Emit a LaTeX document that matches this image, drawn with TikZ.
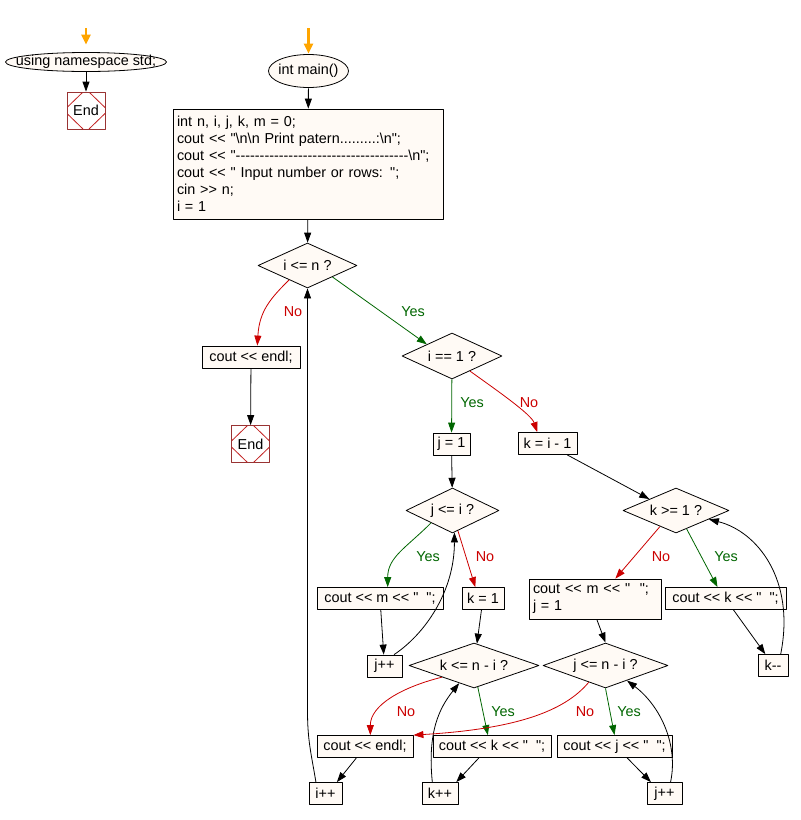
\documentclass[tikz,border=0pt]{standalone}
\usepackage{fontspec}
\setmainfont{Liberation Sans}[Ligatures=TeXOff]
\usetikzlibrary{shapes.geometric, arrows.meta, calc}
\definecolor{cream}{HTML}{FFFAF5}
\definecolor{nored}{HTML}{CC0000}
\definecolor{yesgreen}{HTML}{006600}
\definecolor{endred}{HTML}{993333}
\definecolor{startorange}{HTML}{FFA500}
\begin{document}
\begin{tikzpicture}[x=1pt, y=-1pt, >={Triangle[length=10pt,width=7pt]}, line join=round,
	line width=.8pt, font=\fontsize{14.4pt}{17pt}\selectfont]
	\tikzset{
		box/.style={draw, fill=cream, minimum height=22, inner xsep=4pt, inner ysep=0pt},
		decision/.style={diamond, draw, fill=cream, aspect=3, inner sep=0pt, minimum height=45},
		terminal/.style 2 args={inner sep=0pt, minimum width=#1, minimum height=#2,
			path picture={\draw[fill=cream] (path picture bounding box.center) ellipse [x radius={#1/2-.5}, y radius={#2/2-.5}];}},
		stopbox/.style={draw=endred, fill=white, minimum width=38, minimum height=37, inner sep=0pt,
			path picture={\draw[endred!60!red]
				([xshift=-3pt]path picture bounding box.north) -- ([yshift=3pt]path picture bounding box.west)
				([yshift=-3pt]path picture bounding box.west) -- ([xshift=-3pt]path picture bounding box.south)
				([xshift=3pt]path picture bounding box.south) -- ([yshift=-3pt]path picture bounding box.east)
				([yshift=3pt]path picture bounding box.east) -- ([xshift=3pt]path picture bounding box.north);}},
		yesline/.style={->, color=yesgreen},
		noline/.style={->, color=nored},
		yeslbl/.style={text=yesgreen}, nolbl/.style={text=nored},
		startarrow/.style={>={Triangle[length=10pt,width=9pt]}, ->, color=startorange, line width=2.2pt}
	}
	\path[use as bounding box, fill=white] (0,0) rectangle (801,820);
	% left part
	\node[terminal={162}{20}] (ns) at (86,62) {using namespace std;};
	\node[stopbox] (end1) at (86,110.5) {End};
	% main part
	\node[terminal={81}{34}] (main) at (308.5,71) {int main()};
	\node[box, align=left, text width=262pt, minimum height=110] (init) at (308,164) {int n, i, j, k, m = 0;\\
		cout << "\textbackslash n\textbackslash n Print patern.........:\textbackslash n";\\
		cout << "------------------------------------\textbackslash n";\\
		cout << " Input number or rows: ";\\
		cin >> n;\\
		i = 1};
	\node[decision, minimum width=99] (c1) at (307.5,265.5) {i <= n ?};
	\node[box, minimum width=98] (endl1) at (251,357) {cout << endl;};
	\node[stopbox] (end2) at (250.5,444) {End};
	\node[decision, minimum width=100, minimum height=46] (c2) at (452,356) {i == 1 ?};
	\node[box, minimum width=37] (j1) at (451.5,444) {j = 1};
	\node[box, minimum width=59] (ki1) at (547.5,443.5) {k = i - 1};
	\node[decision, minimum width=93] (c3) at (452.5,510.5) {j <= i ?};
	\node[decision, minimum width=106] (c4) at (676,510.5) {k >= 1 ?};
	\node[box, minimum width=126] (mout) at (380,598.5) {cout << m << "\ \ ";};
	\node[box, minimum width=42] (k1) at (483,598.5) {k = 1};
	\node[box, minimum width=35] (jinc1) at (384.5,666) {j++};
	\node[box, align=left, text width=124pt, minimum height=40] (mj) at (595,599) {cout << m << "\ \ ";\\ j = 1};
	\node[box, minimum width=121] (kout) at (725.5,598.5) {cout << k << "\ \ ";};
	\node[box, minimum width=30] (kdec) at (773,665.5) {k--};
	\node[decision, minimum width=130] (c5) at (474,665.5) {k <= n - i ?};
	\node[decision, minimum width=125] (c6) at (605.5,665.5) {j <= n - i ?};
	\node[box, minimum width=96] (endl2) at (365,746.5) {cout << endl;};
	\node[box, minimum width=118] (kout2) at (492,746.5) {cout << k << "\ \ ";};
	\node[box, minimum width=115] (jout) at (614.5,746.5) {cout << j << "\ \ ";};
	\node[box, minimum width=33] (iinc) at (325.5,793.5) {i++};
	\node[box, minimum width=36] (kinc) at (440,793.5) {k++};
	\node[box, minimum width=35] (jinc2) at (664.5,793.5) {j++};
	% labels
	\node[nolbl] (no1) at (293,312) {No};
	\node[yeslbl] (yes1) at (413,312) {Yes};
	\node[yeslbl] (yes2) at (472,403) {Yes};
	\node[nolbl] (no2) at (529,403) {No};
	\node[yeslbl] (yes3) at (428,557) {Yes};
	\node[nolbl] (no3) at (485,557) {No};
	\node[nolbl] (no4) at (661,557) {No};
	\node[yeslbl] (yes4) at (726,557) {Yes};
	\node[nolbl] (no5) at (406,712) {No};
	\node[yeslbl] (yes5) at (503,712) {Yes};
	\node[nolbl] (no6) at (585,712) {No};
	\node[yeslbl] (yes6) at (629,712) {Yes};
	% connectors
	\coordinate (s1) at (86,28);
	\coordinate (s2) at (308.5,28);
	\draw[startarrow, shorten >=7pt] (s1) -- (ns);
	\draw[startarrow] (s2) -- (main);
	\draw[->] (ns) -- (end1);
	\draw[->] (main) -- (init);
	\draw[->] (init) -- (c1);
	\draw[noline] (c1.-142) .. controls +(-18,18) and +(2,-35) .. (endl1.61);
	\draw[->] (endl1) -- (end2);
	\draw[yesline] (c1.south east) -- (c2.north west);
	\draw[yesline] (c2) -- (j1);
	\draw[noline] (c2.-40) .. controls +(25,18) and +(-6,-18) .. (ki1.132);
	\draw[->] (j1) -- (c3);
	\draw[->] (ki1.-30) -- (c4.north west);
	\draw[yesline] (c3.-150) .. controls +(-25,25) and +(0,-30) .. (mout.56);
	\draw[noline] (c3.-75) -- (k1.124);
	\draw[->] (mout) -- (jinc1);
	\draw[->] (jinc1.50) .. controls +(30,-20) and +(0,60) .. (c3.-85);
	\draw[->] (k1) -- (c5);
	\draw[noline] (c5.-160) .. controls +(-40,10) and +(0,-30) .. (endl2.65);
	\draw[yesline] (c5.-80) -- (kout2.110);
	\draw[->] (kout2.-139) -- (kinc.35);
	\draw[->] (kinc.124) .. controls +(-5,-50) and +(-20,25) .. (c5.-130);
	\draw[->] (endl2.-127) -- (iinc.45);
	\draw[->] (iinc.130) .. controls +(-5,-30) and +(0,30) .. ($(c1.south)+(0,422)$) -- (c1.south);
	\draw[noline] (c4.-135) -- (mj.45);
	\draw[yesline] (c4.-60) -- (kout.125);
	\draw[->] (kout.-55) -- (kdec.124);
	\draw[->] (kdec.56) .. controls +(15,-75) and +(48,12) .. (c4.-15);
	\draw[->] (mj.-85) -- (c6.north);
	\draw[noline] (c6.-135) .. controls +(-25,30) and +(100,-6) .. (endl2.north east);
	\draw[yesline] (c6.south) -- (jout.north);
	\draw[->] (jout.-42) -- (jinc2.140);
	\draw[->] (jinc2.62) .. controls +(8,-38) and +(33,25) .. (c6.-35);
\end{tikzpicture}
\end{document}
